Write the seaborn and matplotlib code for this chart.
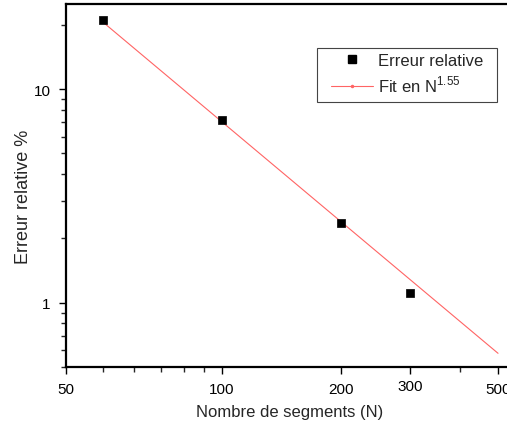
import numpy as np
import pandas as pd
import matplotlib
matplotlib.use('Agg')
import matplotlib.pyplot as plt
import seaborn as sns
from matplotlib.lines import Line2D
from matplotlib.patches import Rectangle
from matplotlib.transforms import ScaledTranslation
from matplotlib.ticker import FixedLocator, NullFormatter

sns.set_style('ticks')
plt.rcParams['font.family'] = ['Liberation Sans', 'DejaVu Sans']
plt.rcParams['mathtext.fontset'] = 'custom'
plt.rcParams['mathtext.rm'] = 'Liberation Sans'

# données
n_segments = [50, 100, 200, 300]
erreur_rel = [21.0, 7.2, 2.35, 1.11]

# droite d'ajustement (extrémités)
fit_n = [50, 500]
fit_err = [20.6, 0.58]

x_ticks = [40.3, 100, 200, 300, 500]
x_tick_labels = ['50', '100', '200', '300', '500']
x_minor = [50, 60, 70, 80, 90, 400]

df_pts = pd.DataFrame({'N': n_segments, 'err': erreur_rel})
df_fit = pd.DataFrame({'N': fit_n, 'err': fit_err})

fig = plt.figure(figsize=(5.07, 4.27), dpi=100)
ax = fig.add_axes([0.130, 0.138, 0.93, 0.850])

fit_color = '#ff6464'
sns.lineplot(data=df_fit, x='N', y='err', color=fit_color, lw=0.8, ax=ax)
sns.scatterplot(data=df_pts, x='N', y='err', marker='s', s=40, color='black',
                edgecolor='black', linewidth=0.5, ax=ax, zorder=3)

ax.set_xscale('log')
ax.set_yscale('log')
ax.set_xlim(40.3, 629)
ax.set_ylim(0.5, 25)

ax.xaxis.set_major_locator(FixedLocator(x_ticks))
ax.set_xticklabels(x_tick_labels)
ax.xaxis.set_minor_locator(FixedLocator(x_minor))
ax.xaxis.set_minor_formatter(NullFormatter())
ax.set_yticks([1, 10])
ax.set_yticklabels(['1', '10'])
ax.yaxis.set_minor_formatter(NullFormatter())

ax.tick_params(which='major', direction='out', length=5, width=1, labelsize=11,
               pad=6, colors='black')
ax.tick_params(which='minor', direction='out', length=3.5, width=1)

# le "300" est un peu plus haut dans l'original
lab300 = ax.get_xticklabels()[3]
lab300.set_transform(lab300.get_transform() +
                     ScaledTranslation(0, 2.5 / 72, fig.dpi_scale_trans))

for side in ['left', 'bottom', 'top']:
    ax.spines[side].set_linewidth(1.6)
    ax.spines[side].set_color('black')
ax.spines['right'].set_visible(False)

ax.set_xlabel('Nombre de segments (N)', fontsize=12)
ax.set_ylabel('Erreur relative %', fontsize=13)
ax.xaxis.set_label_coords(0.475, -0.103)
ax.yaxis.set_label_coords(-0.072, 0.471)

# légende (cadre dessiné à part)
ax.add_patch(Rectangle((0.532, 0.730), 0.382, 0.149, transform=ax.transAxes,
                       fill=True, facecolor='white', edgecolor='#444444',
                       lw=0.8, zorder=4))
handles = [
    Line2D([], [], marker='s', color='black', ls='none', markersize=6),
    Line2D([], [], color=fit_color, lw=0.8, marker='o', markersize=1.5),
]
leg = ax.legend(handles, ['Erreur relative', 'Fit en N$^{\\mathregular{1.55}}$'],
                loc='upper left', bbox_to_anchor=(0.562, 0.865), fontsize=12,
                frameon=False, handlelength=2.5, handletextpad=0.3,
                borderpad=0, labelspacing=0.35, borderaxespad=0)
leg.set_zorder(5)

fig.savefig('out.png', dpi=100)
